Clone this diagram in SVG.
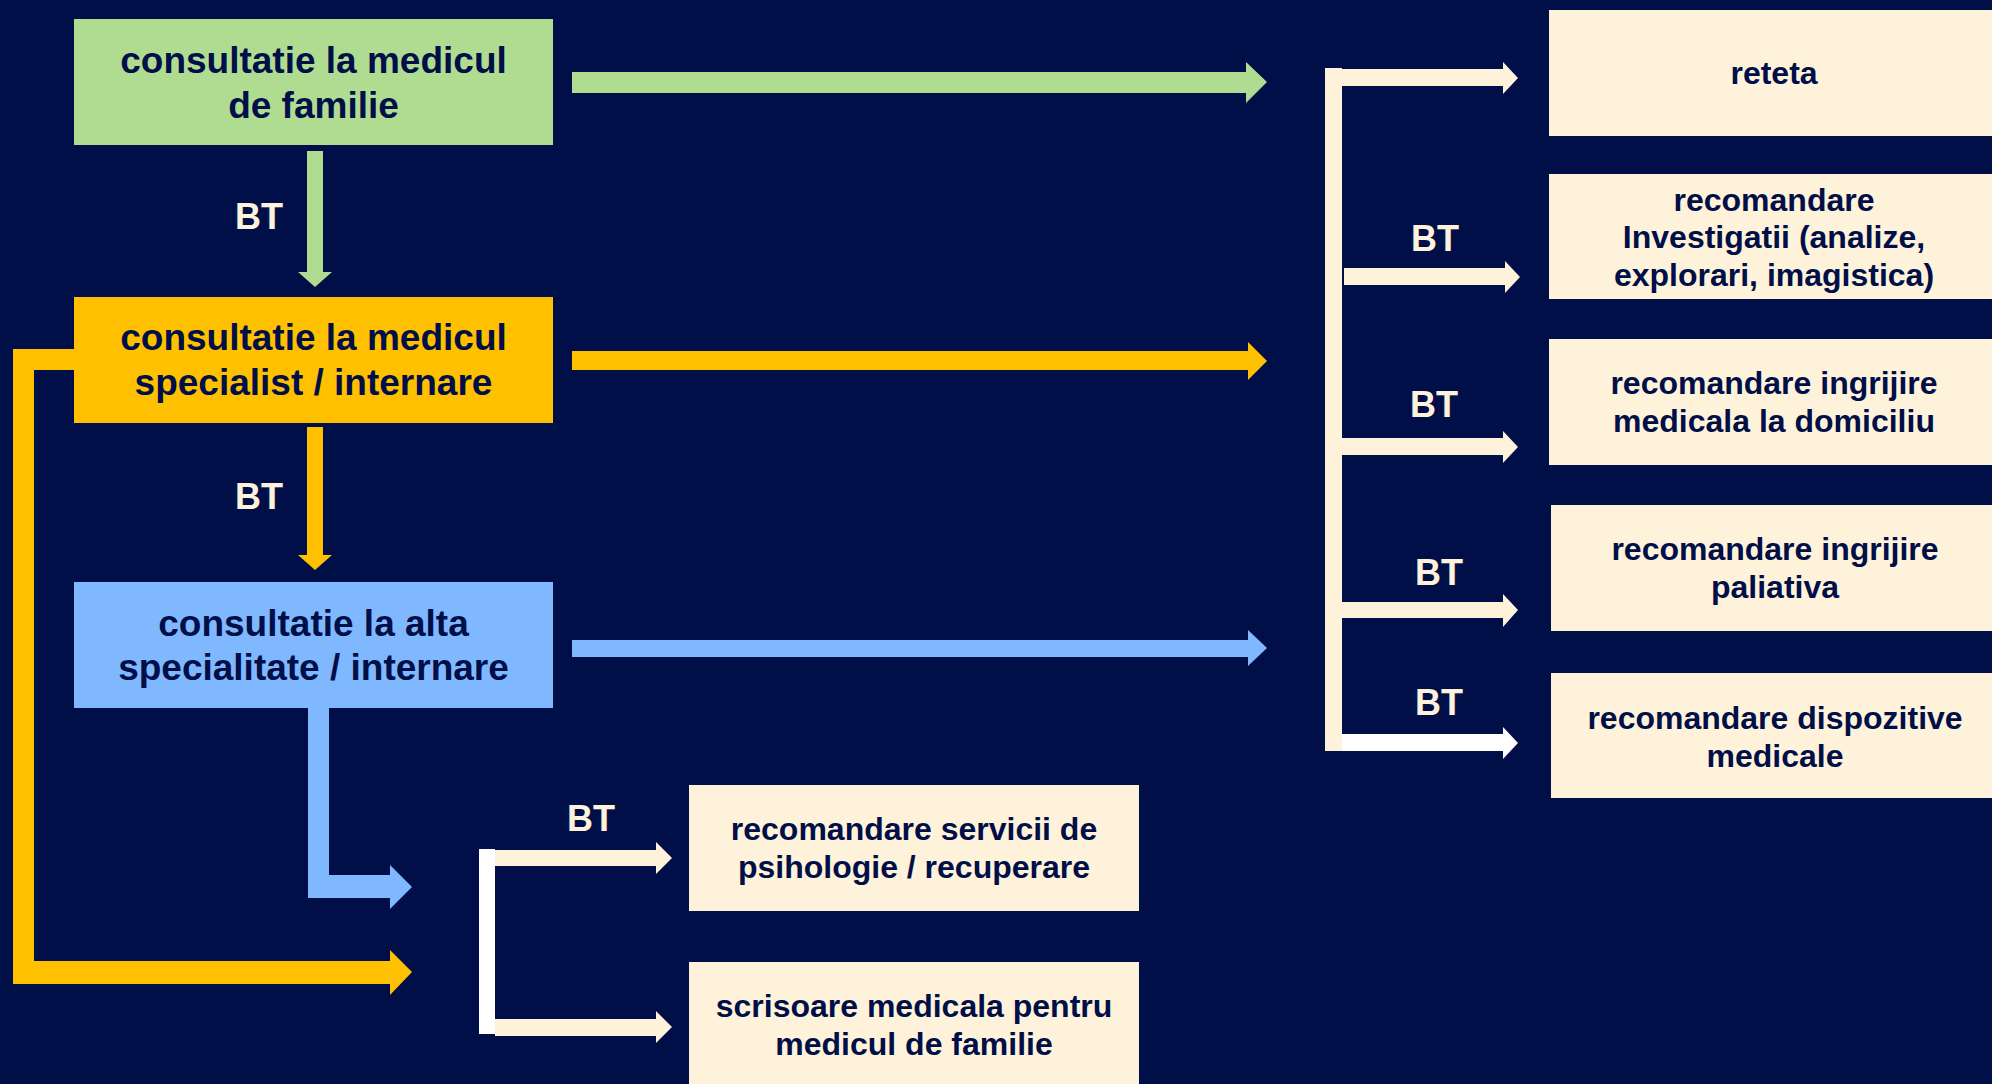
<svg xmlns="http://www.w3.org/2000/svg" width="1992" height="1084" viewBox="0 0 1992 1084">
<style>
.bg{fill:#000F47}
.t{font-family:"Liberation Sans",Arial,sans-serif;font-weight:bold;fill:#000F47;text-anchor:middle}
.big{font-size:37px}
.sm{font-size:32px}
.bt{font-family:"Liberation Sans",Arial,sans-serif;font-weight:bold;font-size:36px;fill:#FFF2DC}
.green{fill:#B0DC92}
.orange{fill:#FFC000}
.blue{fill:#80B8FF}
.cream{fill:#FFF2DA}
.white{fill:#FFFFFF}
</style>
<rect class="bg" x="0" y="0" width="1992" height="1084"/>

<g id="connectors">
  <polygon class="green" points="307,151 323,151 323,272 332,272 315,287 298,272 307,272"/>
  <polygon class="orange" points="307,427 323,427 323,555 332,555 315,570 298,555 307,555"/>
  <polygon class="blue" points="308,708 329,708 329,875 390,875 390,865 412,887 390,909 390,898 308,898"/>
  <polygon class="orange" points="74,349 13,349 13,984 390,984 390,995 412,972 390,950 390,961 34,961 34,370 74,370"/>
  <polygon class="green" points="572,72 1246,72 1246,62 1267,82 1246,103 1246,93 572,93"/>
  <polygon class="orange" points="572,351 1248,351 1248,342 1267,361 1248,380 1248,370 572,370"/>
  <polygon class="blue" points="572,640 1248,640 1248,630 1267,648 1248,666 1248,657 572,657"/>
  <rect class="cream" x="1325" y="68" width="17" height="683"/>
  <polygon class="cream" points="1342,69 1503,69 1503,62 1518,78 1503,94 1503,86 1342,86"/>
  <polygon class="cream" points="1344,268 1505,268 1505,261 1520,277 1505,293 1505,285 1344,285"/>
  <polygon class="cream" points="1342,438 1503,438 1503,431 1518,447 1503,463 1503,455 1342,455"/>
  <polygon class="cream" points="1342,602 1503,602 1503,594 1518,610 1503,627 1503,618 1342,618"/>
  <polygon class="white" points="1342,734 1503,734 1503,727 1518,743 1503,759 1503,751 1342,751"/>
  <rect class="white" x="479" y="849" width="16" height="185"/>
  <polygon class="cream" points="495,850 656,850 656,842 672,858 656,874 656,866 495,866"/>
  <polygon class="cream" points="495,1019 656,1019 656,1011 672,1027 656,1043 656,1036 495,1036"/>
  <text class="bt" x="235" y="229">BT</text>
  <text class="bt" x="235" y="509">BT</text>
  <text class="bt" x="567" y="831">BT</text>
  <text class="bt" x="1411" y="251">BT</text>
  <text class="bt" x="1410" y="417">BT</text>
  <text class="bt" x="1415" y="585">BT</text>
  <text class="bt" x="1415" y="715">BT</text>
</g>

<g id="node-familie">
  <rect class="green" x="74" y="19" width="479" height="126"/>
  <text class="t big" x="313.5" y="73">consultatie la medicul</text>
  <text class="t big" x="313.5" y="118">de familie</text>
</g>
<g id="node-specialist">
  <rect class="orange" x="74" y="297" width="479" height="126"/>
  <text class="t big" x="313.5" y="350">consultatie la medicul</text>
  <text class="t big" x="313.5" y="395">specialist / internare</text>
</g>
<g id="node-alta">
  <rect class="blue" x="74" y="582" width="479" height="126"/>
  <text class="t big" x="313.5" y="636">consultatie la alta</text>
  <text class="t big" x="313.5" y="680">specialitate / internare</text>
</g>
<g id="node-reteta">
  <rect class="cream" x="1549" y="10" width="450" height="126"/>
  <text class="t sm" x="1774" y="84">reteta</text>
</g>
<g id="node-investigatii">
  <rect class="cream" x="1549" y="174" width="450" height="125"/>
  <text class="t sm" x="1774" y="211">recomandare</text>
  <text class="t sm" x="1774" y="248">Investigatii (analize,</text>
  <text class="t sm" x="1774" y="286">explorari, imagistica)</text>
</g>
<g id="node-domiciliu">
  <rect class="cream" x="1549" y="339" width="450" height="126"/>
  <text class="t sm" x="1774" y="394">recomandare ingrijire</text>
  <text class="t sm" x="1774" y="432">medicala la domiciliu</text>
</g>
<g id="node-paliativa">
  <rect class="cream" x="1551" y="505" width="450" height="126"/>
  <text class="t sm" x="1775" y="560">recomandare ingrijire</text>
  <text class="t sm" x="1775" y="598">paliativa</text>
</g>
<g id="node-dispozitive">
  <rect class="cream" x="1551" y="673" width="450" height="125"/>
  <text class="t sm" x="1775" y="729">recomandare dispozitive</text>
  <text class="t sm" x="1775" y="767">medicale</text>
</g>
<g id="node-psihologie">
  <rect class="cream" x="689" y="785" width="450" height="126"/>
  <text class="t sm" x="914" y="840">recomandare servicii de</text>
  <text class="t sm" x="914" y="878">psihologie / recuperare</text>
</g>
<g id="node-scrisoare">
  <rect class="cream" x="689" y="962" width="450" height="126"/>
  <text class="t sm" x="914" y="1017">scrisoare medicala pentru</text>
  <text class="t sm" x="914" y="1055">medicul de familie</text>
</g>
</svg>
